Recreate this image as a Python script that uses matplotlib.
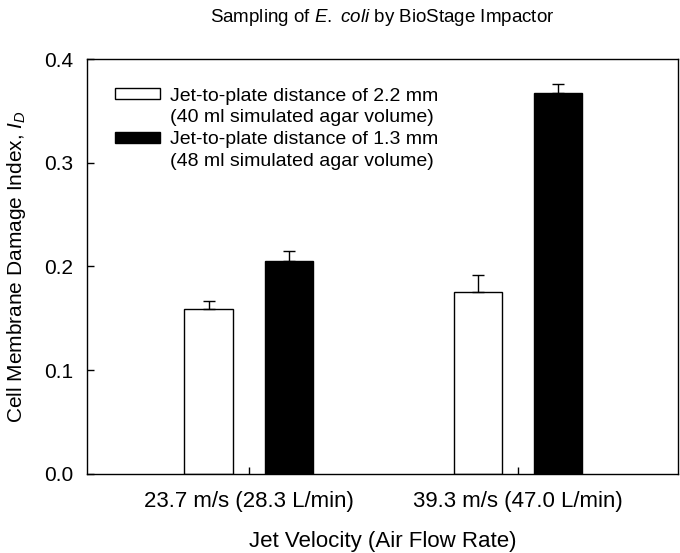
import matplotlib.pyplot as plt
from matplotlib.patches import Rectangle
import numpy as np

# Data
groups = ["23.7 m/s (28.3 L/min)", "39.3 m/s (47.0 L/min)"]
dist_22 = [0.159, 0.175]
err_22 = [0.008, 0.017]
dist_13 = [0.205, 0.367]
err_13 = [0.010, 0.009]
labels = ["Jet-to-plate distance of 2.2 mm", "(40 ml simulated agar volume)",
          "Jet-to-plate distance of 1.3 mm", "(48 ml simulated agar volume)"]


def main():
    plt.rcParams["font.family"] = ["Liberation Sans", "DejaVu Sans"]
    plt.rcParams["mathtext.fontset"] = "custom"
    plt.rcParams["mathtext.rm"] = "Liberation Sans"
    plt.rcParams["mathtext.it"] = "Liberation Sans:italic"

    fig = plt.figure(figsize=(6.8, 5.53), dpi=100)
    ax = fig.add_axes([0.1275, 0.1429, 0.8695, 0.7504])

    x = np.arange(1, len(groups) + 1)
    w = 0.18
    off = 0.149
    ax.bar(x - off, dist_22, w, color="white", edgecolor="black", linewidth=1)
    ax.bar(x + off, dist_13, w, color="black", edgecolor="black", linewidth=1)
    ax.errorbar(x - off, dist_22, yerr=[np.zeros(2), err_22], fmt="none",
                ecolor="black", elinewidth=1, capsize=4.3, capthick=1)
    ax.errorbar(x + off, dist_13, yerr=[np.zeros(2), err_13], fmt="none",
                ecolor="black", elinewidth=1, capsize=4.3, capthick=1)

    ax.set_xlim(0.398, 2.595)
    ax.set_ylim(0, 0.4)
    ax.set_xticks(x)
    ax.set_xticklabels(groups)
    ax.set_yticks([0.0, 0.1, 0.2, 0.3, 0.4])
    ax.set_yticklabels(["0.0", "0.1", "0.2", "0.3", "0.4"])
    ax.tick_params(direction="in", length=5, width=1)
    ax.tick_params(axis="x", labelsize=16, pad=12)
    ax.tick_params(axis="y", labelsize=15, pad=9.5)
    for s in ax.spines.values():
        s.set_linewidth(1)

    ax.set_xlabel("Jet Velocity (Air Flow Rate)", fontsize=16, labelpad=14)
    ax.set_ylabel(r"Cell Membrane Damage Index, $\mathit{I}_{\mathit{D}}$",
                  fontsize=15, labelpad=12)
    ax.set_title(r"Sampling of $\mathit{E.}$ $\mathit{coli}$ by BioStage Impactor",
                 fontsize=13.5, pad=27)

    handles = [Rectangle((0, 0), 1, 1, facecolor="white", edgecolor="black", linewidth=1),
               Rectangle((0, 0), 1, 1, facecolor="none", edgecolor="none"),
               Rectangle((0, 0), 1, 1, facecolor="black", edgecolor="black", linewidth=1),
               Rectangle((0, 0), 1, 1, facecolor="none", edgecolor="none")]
    ax.legend(handles, labels, loc="upper left", frameon=False, fontsize=14,
              handlelength=2.3, handleheight=0.45, handletextpad=0.5,
              labelspacing=0.25, bbox_to_anchor=(0.035, 0.95), borderaxespad=0)

    fig.savefig("out.png", dpi=100)


if __name__ == "__main__":
    main()
